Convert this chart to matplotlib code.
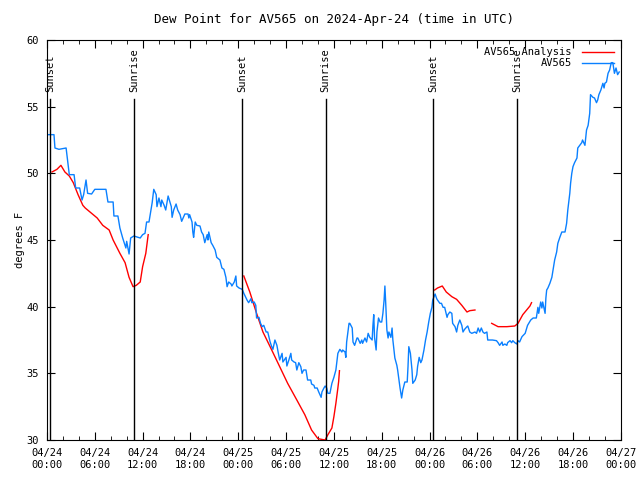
import numpy as np
import matplotlib
matplotlib.use("Agg")
import matplotlib.pyplot as plt
from matplotlib.ticker import MultipleLocator

# hours since 2024-04-24 00:00 UTC
obs_h = [0.13, 0.88, 1.0, 1.5, 2.4, 2.5, 2.8, 3.4, 3.6, 4.1, 4.4, 4.6, 4.9, 5.1, 5.6, 6.0, 7.4, 7.65,
         8.3, 8.4, 8.9, 9.15, 9.5, 9.9, 10.0, 10.3, 10.5, 10.9, 11.7, 12.0, 12.3, 12.5, 12.8, 13.2,
         13.4, 13.7, 13.8, 14.05, 14.3, 14.4, 14.7, 14.9, 15.2, 15.6, 15.7, 15.9, 16.2, 16.4, 16.7,
         16.9, 17.3, 17.7, 17.8, 17.9, 18.2, 18.3, 18.4, 18.6, 18.8, 19.2, 19.4, 19.6, 19.8, 20.1,
         20.2, 20.3, 20.6, 20.8, 21.1, 21.3, 21.7, 21.95, 22.2, 22.45, 22.6, 22.8, 23.1, 23.2, 23.5,
         23.7, 23.8, 24.1, 24.5, 24.7, 25.1, 25.3, 25.6, 25.7, 26.0, 26.2, 26.3, 26.6, 26.8, 27.0,
         27.2, 27.5, 27.7, 28.0, 28.2, 28.35, 28.6, 28.85, 29.0, 29.2, 29.5, 29.6, 30.0, 30.1, 30.35,
         30.6, 30.7, 31.0, 31.2, 31.35, 31.6, 31.85, 32.0, 32.2, 32.5, 32.7, 33.1, 33.2, 33.5, 33.6,
         33.9, 34.1, 34.4, 34.5, 34.75, 34.9, 35.1, 35.25, 35.5, 35.75, 36.0, 36.25, 36.4, 36.5,
         36.75, 37.0, 37.1, 37.4, 37.5, 37.6, 37.9, 38.0, 38.3, 38.4, 38.6, 38.9, 39.0, 39.3, 39.5,
         39.6, 39.9, 40.1, 40.3, 40.5, 40.8, 40.9, 41.0, 41.1, 41.3, 41.4, 41.6, 41.8, 42.0, 42.15,
         42.3, 42.4, 42.5, 42.65, 42.8, 42.9, 43.15, 43.3, 43.4, 43.65, 43.9, 44.0, 44.3, 44.5,
         44.65, 44.9, 45.2, 45.3, 45.4, 45.6, 45.8, 45.9, 46.2, 46.4, 46.5, 46.7, 46.9, 47.05, 47.3,
         47.5, 47.7, 47.9, 48.1, 48.3, 48.4, 48.7, 48.9, 49.0, 49.3, 49.5, 49.7, 49.9, 50.2, 50.3,
         50.55, 50.8, 50.9, 51.2, 51.4, 51.55, 51.8, 52.05, 52.2, 52.4, 52.7, 52.8, 53.05, 53.3,
         53.7, 53.9, 54.1, 54.3, 54.5, 54.7, 54.9, 55.2, 55.3, 55.9, 56.4, 56.6, 56.8, 57.1, 57.2,
         57.45, 57.7, 57.8, 58.1, 58.3, 58.45, 58.7, 58.95, 59.1, 59.3, 59.6, 60.0, 60.2, 60.3, 60.7,
         61.0, 61.4, 61.6, 61.7, 61.95, 62.1, 62.2, 62.5, 62.6, 62.7, 62.85, 63.1, 63.35, 63.5, 63.7,
         63.95, 64.1, 64.35, 64.6, 65.0, 65.2, 65.35, 65.6, 65.7, 65.85, 66.0, 66.2, 66.5, 66.6,
         66.85, 67.1, 67.2, 67.5, 67.6, 67.7, 67.9, 68.1, 68.2, 68.5, 68.7, 68.95, 69.1, 69.25, 69.5,
         69.75, 69.9, 70.0, 70.2, 70.4, 70.6, 70.8, 71.0, 71.2, 71.4, 71.6, 71.8]
obs_dp = [52.9, 52.9, 51.9, 51.8, 51.9, 51.4, 49.9, 49.9, 48.9, 48.9, 48.0, 48.4, 49.5, 48.5, 48.45,
          48.8, 48.8, 47.85, 47.85, 46.8, 46.8, 45.9, 45.15, 44.4, 44.9, 43.95, 45.15, 45.3, 45.15,
          45.4, 45.5, 46.35, 46.35, 47.8, 48.8, 48.4, 47.5, 48.15, 47.5, 48.0, 47.6, 47.25, 48.3,
          47.5, 46.7, 47.25, 47.7, 47.25, 46.9, 46.4, 46.95, 46.95, 46.65, 46.9, 46.35, 45.6, 45.2,
          46.35, 46.1, 46.05, 45.6, 45.4, 44.8, 45.4, 45.0, 45.6, 44.8, 44.6, 44.25, 43.7, 43.5,
          42.9, 42.8, 42.2, 41.5, 41.85, 41.7, 41.55, 41.85, 42.3, 41.55, 41.4, 41.3, 41.0, 40.5,
          40.3, 40.6, 40.3, 40.35, 40.1, 39.15, 39.2, 38.75, 38.5, 38.6, 38.1, 38.1, 37.35, 37.0,
          36.8, 37.5, 37.1, 36.6, 36.0, 36.5, 35.85, 36.2, 35.55, 36.0, 36.5, 36.0, 35.85, 35.8,
          35.25, 35.8, 35.5, 35.0, 35.25, 35.25, 34.5, 34.5, 34.2, 34.1, 33.9, 33.9, 33.6, 33.2,
          33.6, 33.9, 34.05, 33.9, 33.5, 33.5, 34.25, 34.7, 35.25, 36.0, 36.5, 36.8, 36.6, 36.75,
          36.6, 36.2, 37.35, 38.75, 38.75, 38.4, 37.35, 37.1, 37.65, 37.65, 37.25, 37.5, 37.25,
          37.65, 37.35, 38.0, 37.7, 37.5, 38.6, 39.4, 37.7, 36.75, 38.1, 39.15, 38.85, 38.85, 39.5,
          40.5, 41.55, 40.3, 38.25, 37.65, 38.1, 37.7, 38.4, 37.5, 36.15, 35.6, 35.25, 33.9, 33.15,
          33.75, 34.35, 34.35, 35.5, 37.0, 36.5, 35.25, 34.25, 34.5, 34.9, 35.5, 36.2, 35.8, 36.0,
          36.75, 37.5, 38.1, 38.85, 39.5, 39.95, 40.5, 40.95, 40.6, 40.5, 40.25, 40.25, 39.95, 39.95,
          39.2, 39.4, 39.6, 39.5, 38.75, 38.5, 38.1, 38.6, 39.0, 38.6, 38.1, 38.3, 38.5, 38.55, 38.1,
          38.0, 38.1, 38.0, 38.4, 38.1, 38.4, 38.1, 38.0, 38.1, 37.5, 37.5, 37.45, 37.3, 37.1, 37.35,
          37.1, 37.2, 37.1, 37.3, 37.45, 37.3, 37.45, 37.3, 37.2, 37.45, 37.35, 37.75, 38.0, 38.4,
          38.6, 39.0, 39.15, 39.15, 39.95, 39.5, 40.35, 39.9, 40.35, 39.5, 40.65, 41.25, 41.4, 41.75,
          42.2, 42.75, 43.5, 44.1, 44.75, 45.2, 45.6, 45.6, 46.25, 47.25, 48.5, 49.25, 50.0, 50.5,
          50.8, 51.15, 51.9, 52.1, 52.3, 52.5, 52.1, 52.65, 53.25, 53.6, 54.5, 55.9, 55.7, 55.65,
          55.3, 55.5, 55.9, 56.25, 56.75, 56.4, 56.75, 56.85, 57.5, 57.75, 58.3, 58.3, 57.5, 57.9,
          57.4, 57.6]

# analysis runs (separate segments)
ana_h = [
    [0.63, 1.25, 1.75, 2.25, 2.8, 3.3, 3.9, 4.5, 4.8, 5.4, 6.3, 7.0, 7.8, 8.3, 9.15, 9.8, 10.3,
     10.8, 11.2, 11.7, 12.0, 12.4, 12.7],
    [24.7, 25.45, 26.3, 27.1, 28.2, 29.2, 30.2, 31.35, 32.35, 33.2, 34.0, 34.9, 35.25, 35.75,
     36.0, 36.25, 36.5, 36.6, 36.7],
    [48.65, 49.0, 49.6, 50.1, 50.8, 51.4, 52.05, 52.7, 53.05, 53.7],
    [55.8, 56.6, 57.7, 58.7, 59.1, 59.7, 60.6, 60.8],
]
ana_dp = [
    [50.1, 50.3, 50.6, 50.1, 49.8, 49.3, 48.4, 47.6, 47.4, 47.1, 46.65, 46.1, 45.75, 45.0, 44.0,
     43.3, 42.2, 41.5, 41.6, 41.85, 43.0, 44.0, 45.4],
    [42.3, 41.1, 39.5, 38.1, 36.75, 35.5, 34.25, 33.0, 31.9, 30.75, 30.1, 30.0, 30.4, 30.9,
     31.75, 32.75, 33.9, 34.4, 35.2],
    [41.25, 41.4, 41.55, 41.1, 40.75, 40.55, 40.1, 39.6, 39.7, 39.75],
    [38.75, 38.5, 38.5, 38.55, 38.75, 39.4, 40.05, 40.3],
]

sun_h = [0.4, 10.9, 24.45, 34.95, 48.45, 58.95]
sun_lbl = ["Sunset", "Sunrise", "Sunset", "Sunrise", "Sunset", "Sunrise"]

tick_h = list(range(0, 73, 6))
tick_lbl = ["04/%02d\n%02d:00" % (24 + h // 24, h % 24) for h in tick_h]

plt.rcParams['font.family'] = 'DejaVu Sans Mono'
plt.rcParams['font.size'] = 7.5

fig = plt.figure(figsize=(6.4, 4.8), dpi=100)
ax = fig.add_axes([0.0734, 0.0833, 0.8966, 0.8334])

for i in range(len(ana_h)):
    ax.plot(ana_h[i], ana_dp[i], color='#ff0000', lw=1,
            label='AV565 Analysis' if i == 0 else None)
ax.plot(obs_h, obs_dp, color='#0a80ff', lw=1, label='AV565')

for h, s in zip(sun_h, sun_lbl):
    ax.plot([h, h], [30, 55.6], color='black', lw=1)
    ax.text(h, 56.1, s, rotation=90, ha='center', va='bottom')

ax.set_xlim(0, 72)
ax.set_ylim(30, 60)
ax.set_xticks(tick_h)
ax.set_xticklabels(tick_lbl)
ax.xaxis.set_minor_locator(MultipleLocator(2))
ax.set_yticks(range(30, 61, 5))
ax.tick_params(direction='in', top=True, right=True, length=6, pad=6)
ax.tick_params(which='minor', direction='in', top=True, length=3)
ax.set_ylabel('degrees F', labelpad=1)
ax.set_title('Dew Point for AV565 on 2024-Apr-24 (time in UTC)', pad=12)

ax.legend(loc='upper right', frameon=False, markerfirst=False, handlelength=3.0,
          borderaxespad=0.3, labelspacing=0.1, handletextpad=1.0)

fig.savefig('out.png')
